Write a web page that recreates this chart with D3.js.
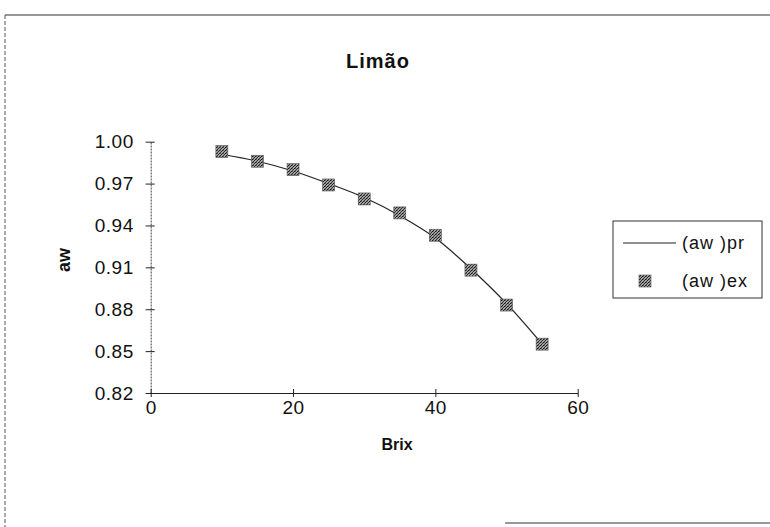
<!DOCTYPE html>
<html>
<head>
<meta charset="utf-8">
<script src="https://cdn.jsdelivr.net/npm/d3@7"></script>
<style>
  body { margin: 0; background: #fff; }
  text { font-family: "Liberation Sans", Arial, sans-serif; fill: #111; }
</style>
</head>
<body>
<div id="chart"></div>
<script>
// chart data
const brix = [10, 15, 20, 25, 30, 35, 40, 45, 50, 55];
const awEx = [0.993, 0.986, 0.980, 0.969, 0.959, 0.949, 0.933, 0.908, 0.883, 0.855];
const awPr = [0.991, 0.986, 0.979, 0.970, 0.960, 0.947, 0.931, 0.909, 0.884, 0.855];
const yTicks = [0.82, 0.85, 0.88, 0.91, 0.94, 0.97, 1.00];
const xTicks = [0, 20, 40, 60];

const width = 770, height = 527;
const margin = {top: 141.7, right: 192.3, bottom: 134, left: 150.7};

const svg = d3.select("#chart")
  .append("svg")
  .attr("width", width)
  .attr("height", height);

// pattern for the hatched square markers
const pat = svg.append("defs").append("pattern")
  .attr("id", "hatch")
  .attr("patternUnits", "userSpaceOnUse")
  .attr("width", 3).attr("height", 3);
pat.append("rect").attr("width", 3).attr("height", 3).attr("fill", "#a0a0a0");
pat.append("rect").attr("width", 1).attr("height", 1).attr("fill", "#1a1a1a");
pat.append("rect").attr("x", 2).attr("y", 1).attr("width", 1).attr("height", 1).attr("fill", "#2a2a2a");
pat.append("rect").attr("x", 1).attr("y", 2).attr("width", 1).attr("height", 1).attr("fill", "#333");
pat.append("rect").attr("x", 1).attr("y", 0).attr("width", 1).attr("height", 1).attr("fill", "#666");

// outer frame (scan only shows left, top and part of bottom)
svg.append("line").attr("x1", 5).attr("y1", 15).attr("x2", 770).attr("y2", 15)
  .attr("stroke", "#333").attr("stroke-width", 1);
svg.append("line").attr("x1", 5).attr("y1", 15).attr("x2", 5).attr("y2", 527)
  .attr("stroke", "#555").attr("stroke-width", 1).attr("stroke-dasharray", "4,2");
svg.append("line").attr("x1", 505).attr("y1", 523).attr("x2", 770).attr("y2", 523)
  .attr("stroke", "#333").attr("stroke-width", 1);

const xScale = d3.scaleLinear()
  .domain([0, 60])
  .range([margin.left, width - margin.right]);

const yScale = d3.scaleLinear()
  .domain([0.82, 1.00])
  .range([height - margin.bottom, margin.top]);

// x axis
const gx = svg.append("g")
  .attr("transform", `translate(0,${height - margin.bottom})`)
  .call(d3.axisBottom(xScale).tickValues(xTicks).tickSize(0).tickPadding(8).tickFormat(d3.format("d")));
gx.select(".domain").attr("stroke", "#222");
gx.selectAll(".tick").append("line")
  .attr("y1", -4).attr("y2", 4).attr("stroke", "#222");
gx.selectAll("text").attr("font-size", "19px").attr("fill", "#111").attr("letter-spacing", "0.5px");

// y axis
const gy = svg.append("g")
  .attr("transform", `translate(${margin.left},0)`)
  .call(d3.axisLeft(yScale).tickValues(yTicks).tickSize(0).tickPadding(17).tickFormat(d3.format(".2f")));
gy.select(".domain").attr("stroke", "#444").attr("stroke-dasharray", "2,1");
gy.selectAll(".tick").append("line")
  .attr("x1", -5).attr("x2", 4).attr("stroke", "#222");
gy.selectAll("text").attr("font-size", "19px").attr("fill", "#111").attr("letter-spacing", "0.5px");

// titles
svg.append("text")
  .attr("x", 378).attr("y", 68)
  .attr("text-anchor", "middle")
  .attr("font-size", "20px").attr("font-weight", "bold")
  .attr("letter-spacing", "1px")
  .text("Limão");

svg.append("text")
  .attr("x", 397).attr("y", 450)
  .attr("text-anchor", "middle")
  .attr("font-size", "16px").attr("font-weight", "bold")
  .text("Brix");

svg.append("text")
  .attr("transform", "translate(70,260) rotate(-90)")
  .attr("text-anchor", "middle")
  .attr("font-size", "18px").attr("font-weight", "bold")
  .text("aw");

// predicted curve
const line = d3.line()
  .x((d, i) => xScale(brix[i]))
  .y(d => yScale(d))
  .curve(d3.curveMonotoneX);

svg.append("path")
  .datum(awPr)
  .attr("d", line)
  .attr("fill", "none")
  .attr("stroke", "#222")
  .attr("stroke-width", 1.2);

// experimental points
const m = 12;
svg.selectAll("rect.pt")
  .data(awEx)
  .enter()
  .append("rect")
  .attr("class", "pt")
  .attr("x", (d, i) => xScale(brix[i]) - m / 2)
  .attr("y", d => yScale(d) - m / 2)
  .attr("width", m).attr("height", m)
  .attr("fill", "url(#hatch)")
  .attr("stroke", "#555").attr("stroke-width", 0.6);

// legend
const lg = svg.append("g");
lg.append("rect")
  .attr("x", 613).attr("y", 221).attr("width", 149).attr("height", 77)
  .attr("fill", "#fff").attr("stroke", "#333").attr("stroke-width", 1);
lg.append("line")
  .attr("x1", 623).attr("x2", 676).attr("y1", 243).attr("y2", 243)
  .attr("stroke", "#222").attr("stroke-width", 1.2);
lg.append("text").attr("x", 682).attr("y", 249).attr("font-size", "18px")
  .attr("letter-spacing", "1px").text("(aw )pr");
lg.append("rect")
  .attr("x", 639).attr("y", 275).attr("width", m).attr("height", m)
  .attr("fill", "url(#hatch)").attr("stroke", "#555").attr("stroke-width", 0.6);
lg.append("text").attr("x", 682).attr("y", 287).attr("font-size", "18px")
  .attr("letter-spacing", "1px").text("(aw )ex");
</script>
</body>
</html>
